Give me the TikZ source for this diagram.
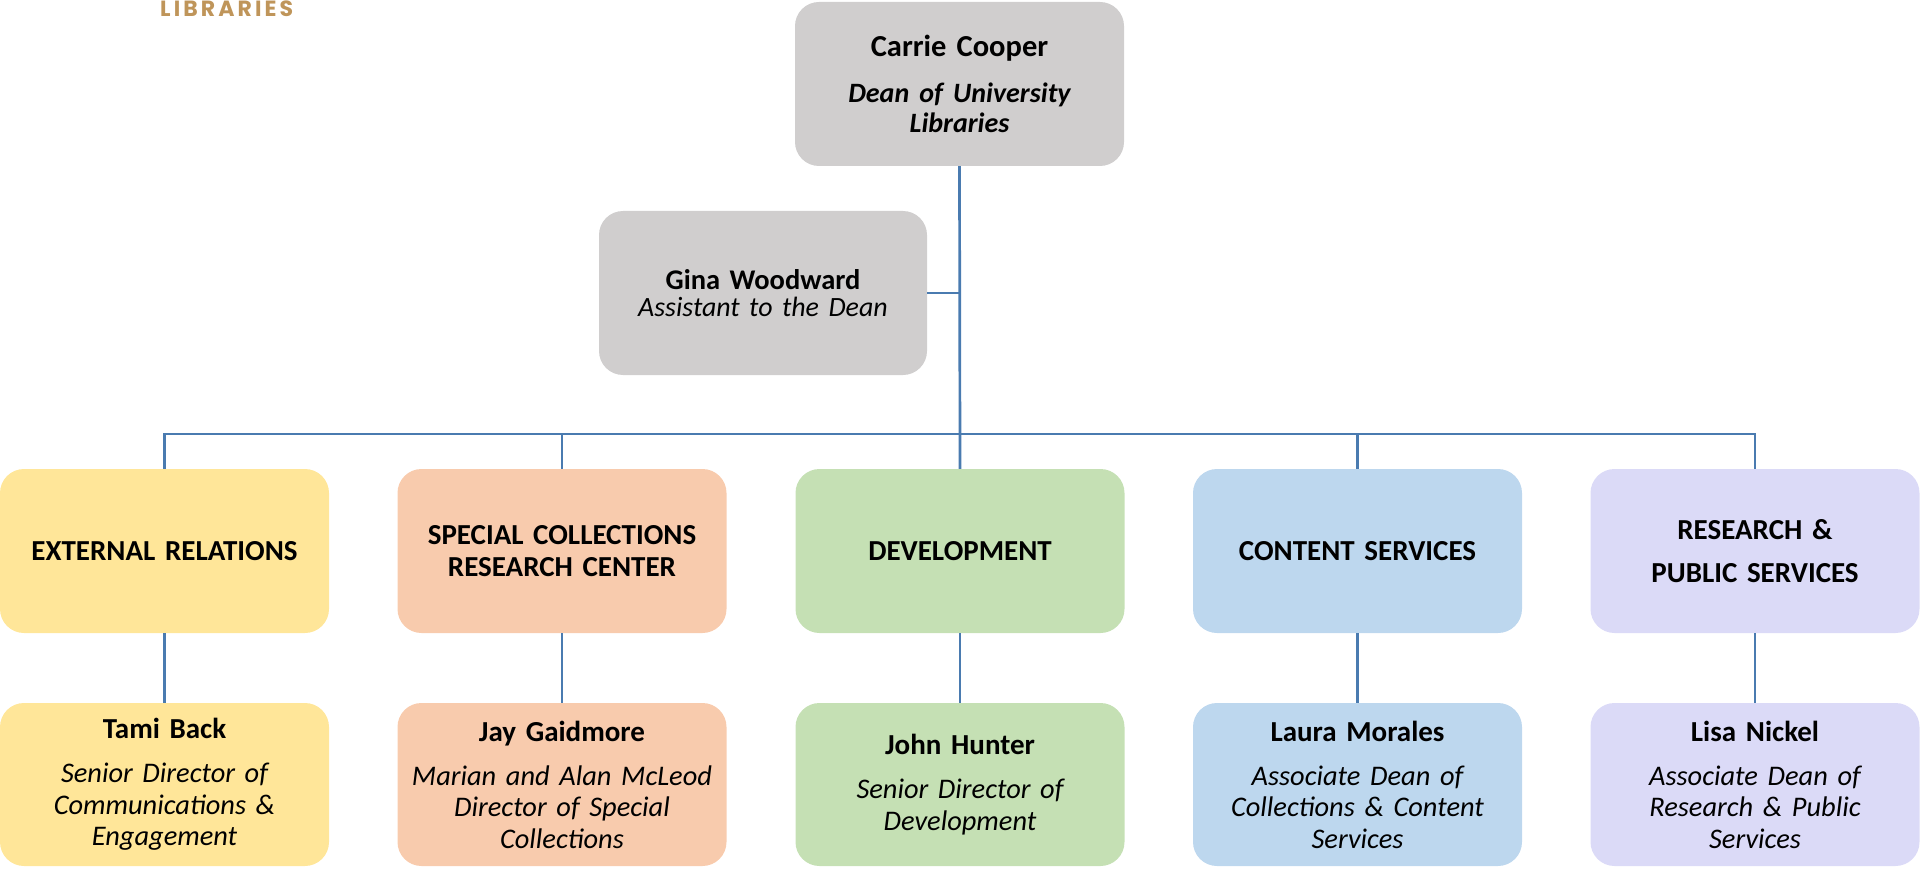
\documentclass[tikz,border=0pt]{standalone}
\usepackage{fontspec}
\setmainfont{Carlito}
\newfontfamily\logofont{Poppins}[LetterSpace=14]
\definecolor{cgray}{RGB}{208,206,206}
\definecolor{cyellow}{RGB}{255,230,153}
\definecolor{cpeach}{RGB}{248,203,173}
\definecolor{cgreen}{RGB}{197,224,180}
\definecolor{cblue}{RGB}{189,215,238}
\definecolor{clav}{RGB}{219,218,247}
\definecolor{linec}{RGB}{74,123,176}
\definecolor{gold}{RGB}{191,149,90}
\newcommand{\ttl}[1]{{\fontsize{28.4}{31.5}\selectfont\itshape #1}}
\newcommand{\deanttl}[1]{{\fontsize{28}{29.5}\selectfont\bfseries\itshape #1}}
\begin{document}
\begin{tikzpicture}[x=1pt,y=-1pt,
  box/.style={rectangle, rounded corners=24pt, minimum width=329pt, minimum height=164pt,
    inner sep=0pt, align=center, text width=325pt, font=\fontsize{29}{31.5}\selectfont},
  conn/.style={draw=linec, line width=2.7pt},
  thinconn/.style={draw=linec, line width=2pt}]
\useasboundingbox (0,0) rectangle (1920,869);

\node[anchor=base west, text=gold, inner sep=0pt, font=\logofont\bfseries\fontsize{22}{22}\selectfont] (logo) at (160,17) {LIBRARIES};

\node[box, fill=cgray, font=\fontsize{30.5}{29.5}\selectfont] (top) at (959.5,84)
  {\textbf{Carrie Cooper}\\[16.5pt]\deanttl{Dean of University}\\\deanttl{Libraries}};
\node[box, fill=cgray, minimum width=328pt, font=\fontsize{28.5}{26.5}\selectfont] (gina) at (763,293)
  {\textbf{Gina Woodward}\\{\fontsize{27.9}{26.5}\selectfont\itshape Assistant to the Dean}};

\node[box, fill=cyellow] (d1) at (164.5,551) {\textbf{EXTERNAL RELATIONS}};
\node[box, fill=cpeach] (d2) at (562,551) {\textbf{SPECIAL COLLECTIONS}\\\textbf{RESEARCH CENTER}};
\node[box, fill=cgreen] (d3) at (960,551) {\textbf{DEVELOPMENT}};
\node[box, fill=cblue] (d4) at (1357.5,551) {\textbf{CONTENT SERVICES}};
\node[box, fill=clav] (d5) at (1755,551) {\textbf{RESEARCH \&}\\[11.5pt]\textbf{PUBLIC SERVICES}};

\node[box, fill=cyellow, minimum height=163pt] (p1) at (164.5,784.5)
  {\textbf{Tami Back}\\[12.5pt]\ttl{Senior Director of}\\\ttl{Communications \&}\\\ttl{Engagement}};
\node[box, fill=cpeach, minimum height=163pt] (p2) at (562,784.5)
  {\textbf{Jay Gaidmore}\\[12.5pt]\ttl{Marian and Alan McLeod}\\\ttl{Director of Special}\\\ttl{Collections}};
\node[box, fill=cgreen, minimum height=163pt] (p3) at (960,784.5)
  {\textbf{John Hunter}\\[12.5pt]\ttl{Senior Director of}\\\ttl{Development}};
\node[box, fill=cblue, minimum height=163pt] (p4) at (1357.5,784.5)
  {\textbf{Laura Morales}\\[12.5pt]\ttl{Associate Dean of}\\\ttl{Collections \& Content}\\\ttl{Services}};
\node[box, fill=clav, minimum height=163pt] (p5) at (1755,784.5)
  {\textbf{Lisa Nickel}\\[12.5pt]\ttl{Associate Dean of}\\\ttl{Research \& Public}\\\ttl{Services}};

\coordinate (bus) at (960,434);
\draw[conn] (top.south) -- (d3.north);
\draw[thinconn] (gina.east) -- (top.south |- gina.east);
\draw[conn] (d1.north) |- (bus) -| (d5.north);
\draw[conn] (d2.north) -- (d2.north |- bus);
\draw[conn] (d4.north) -- (d4.north |- bus);
\foreach \i in {1,...,5} {
  \draw[conn] (d\i.south) -- (p\i.north);
}
\end{tikzpicture}
\end{document}
